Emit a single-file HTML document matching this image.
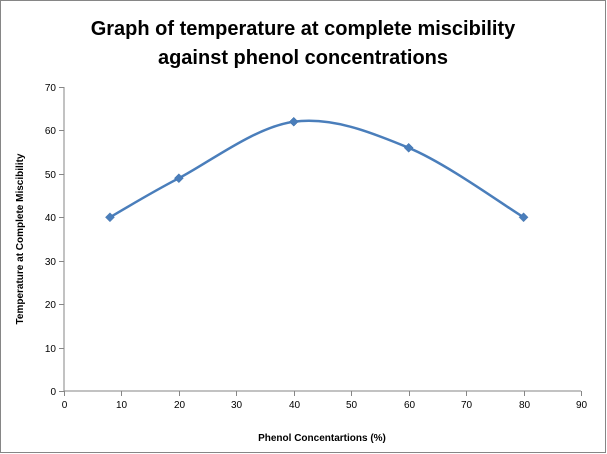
<!DOCTYPE html>
<html><head><meta charset="utf-8"><style>
html,body{margin:0;padding:0;background:#fff;}
svg{display:block;font-family:"Liberation Sans",sans-serif;}
</style></head><body>
<svg id="chart" width="607" height="454" viewBox="0 0 607 454">
<rect x="0.5" y="0.5" width="605" height="452" fill="#fff" stroke="#868686"/>
<text x="303" y="35" text-anchor="middle" font-size="20" font-weight="bold" fill="#000">Graph of temperature at complete miscibility</text>
<text x="303" y="64" text-anchor="middle" font-size="20" font-weight="bold" fill="#000">against phenol concentrations</text>
<text x="322" y="441" text-anchor="middle" font-size="10" font-weight="bold">Phenol Concentartions (%)</text>
<text transform="translate(23,239) rotate(-90)" text-anchor="middle" font-size="10" font-weight="bold">Temperature at Complete Miscibility</text>
<g id="axes"></g>
<g id="series"></g>
</svg>
<script>
const xTicks=[0,10,20,30,40,50,60,70,80,90];
const yTicks=[0,10,20,30,40,50,60,70];
const xValues=[8,20,40,60,80];
const yValues=[40,49,62,56,40];
const X0=64,X1=581,Y0=391,Y1=87;
const sx=v=>X0+(v-0)/(90-0)*(X1-X0);
const sy=v=>Y0-(v-0)/(70-0)*(Y0-Y1);
const NS="http://www.w3.org/2000/svg";
const axes=document.getElementById('axes'),ser=document.getElementById('series');
function mk(tag,attrs,parent){const e=document.createElementNS(NS,tag);for(const k in attrs)e.setAttribute(k,attrs[k]);parent.appendChild(e);return e;}
let yl=mk('line',{x1:X0,y1:Y1,x2:X0,y2:Y0,stroke:'#868686'},axes);


let xl=mk('line',{x1:X0,y1:Y0,x2:X1,y2:Y0,stroke:'#868686'},axes);


yTicks.forEach(t=>{const y=Math.round(sy(t))+0.5;
 const tk=mk('line',{x1:X0-5,y1:y,x2:X0,y2:y,stroke:'#868686'},axes);
 
 
 const tx=mk('text',{x:X0-8,y:y+3.5,'text-anchor':'end','font-size':10},axes);tx.textContent=t;
 
 });
xTicks.forEach(t=>{const x=Math.round(sx(t))+0.5;
 const tk=mk('line',{x1:x,y1:Y0,x2:x,y2:Y0+5,stroke:'#868686'},axes);
 
 
 const tx=mk('text',{x:x,y:Y0+17,'text-anchor':'middle','font-size':10},axes);tx.textContent=t;
 
 });
const P=xValues.map((v,i)=>[sx(v),sy(yValues[i])]);
let d='M'+P[0][0]+','+P[0][1];
const k=1/6;
for(let i=0;i<P.length-1;i++){
 const p0=P[Math.max(i-1,0)],p1=P[i],p2=P[i+1],p3=P[Math.min(i+2,P.length-1)];
 const c1=[p1[0]+(p2[0]-p0[0])*k,p1[1]+(p2[1]-p0[1])*k];
 const c2=[p2[0]-(p3[0]-p1[0])*k,p2[1]-(p3[1]-p1[1])*k];
 d+=` C${c1[0]},${c1[1]} ${c2[0]},${c2[1]} ${p2[0]},${p2[1]}`;
}
const line=mk('path',{d:d,fill:'none',stroke:'#4a7ebb','stroke-width':2.5},ser);


P.forEach(p=>{const m=mk('path',{d:`M${p[0]},${p[1]-4.5} L${p[0]+4.5},${p[1]} L${p[0]},${p[1]+4.5} L${p[0]-4.5},${p[1]} Z`,fill:'#4a7ebb',stroke:'#3f6fa8','stroke-width':0.5},ser);
 
 });
</script>
</body></html>
